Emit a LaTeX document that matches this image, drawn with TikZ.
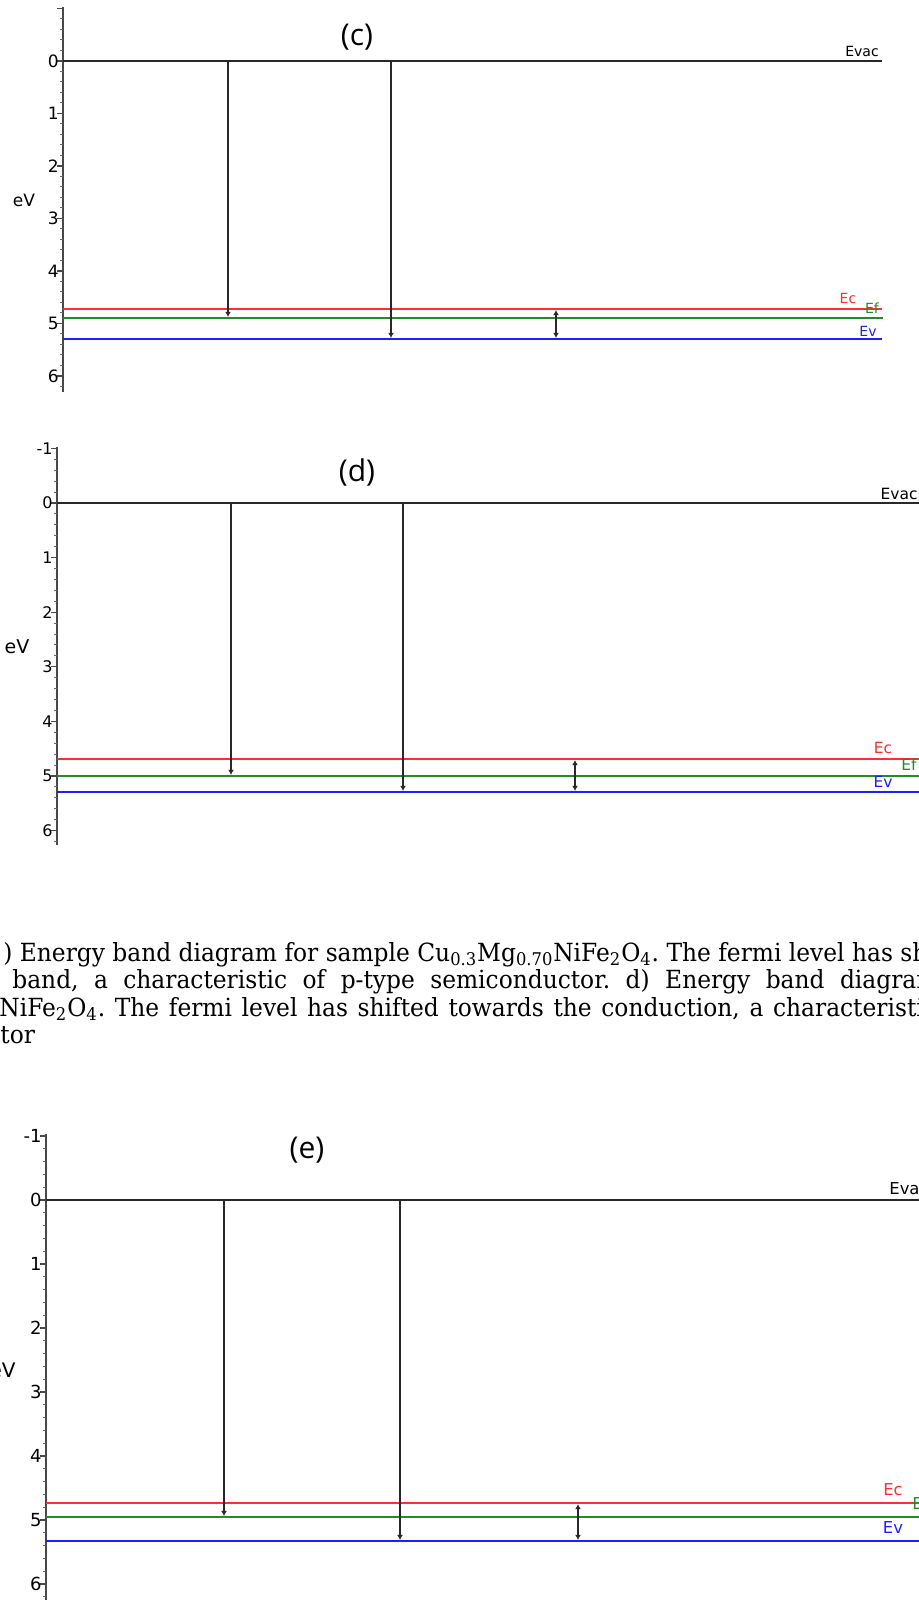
\documentclass[tikz,border=0pt]{standalone}
\usepackage{fontspec}
\usepackage{graphicx}
\usetikzlibrary{arrows.meta}
\setmainfont{DejaVu Serif}
\newfontfamily\capfam{DejaVu Serif}
\newfontfamily\tickfam{DejaVu Sans}
\newfontfamily\titlefam{Open Sans}
\definecolor{ecred}{RGB}{255,45,45}
\definecolor{efgreen}{RGB}{35,140,35}
\definecolor{evblue}{RGB}{30,30,255}
\definecolor{inkgray}{RGB}{40,40,40}
\newlength\capw
\newcommand\capfont{\capfam\fontsize{12.5}{15}\selectfont\frenchspacing}
\newcommand\fs[1]{\tickfam\fontsize{#1}{#1}\selectfont}
\tikzset{
  dottip/.tip={Latex[length=2.6pt,width=3pt]},
  lvl/.style={line width=1pt},
  vacline/.style={lvl, inkgray},
  ecline/.style={lvl, ecred},
  efline/.style={lvl, efgreen},
  evline/.style={lvl, evblue},
  trans/.style={line width=0.9pt, inkgray, -dottip},
  transboth/.style={line width=0.9pt, inkgray, dottip-dottip},
  axisline/.style={line width=0.8pt, inkgray!85},
  majtick/.style={line width=0.6pt, inkgray!85},
  mintick/.style={line width=0.5pt, inkgray!70},
  ticklab/.style={anchor=east, inner sep=0pt},
  ptitle/.style={font=\titlefam\fontsize{15}{17}\selectfont, inner sep=0pt},
  lvllab/.style={inner sep=0pt},
  capline/.style={anchor=base west, inner sep=0pt, font=\capfont},
}
% #1 prefix, #2 axis x, #3 y of 0 eV, #4 px per eV, #5 bottom eV, #6 first label, #7 font size
\newcommand\bandaxis[7]{%
  \draw[axisline] (#2,{#3-1.03*#4}) coordinate (#1-axtop) -- (#2,{#3+#5*#4}) coordinate (#1-axbot);
  \foreach \k in {0,...,36} \draw[mintick] (#2,{#3+(-1+0.2*\k)*#4}) -- ++(-3,0);
  \foreach \v in {-1,...,6} \draw[majtick] (#2,{#3+\v*#4}) -- ++(-6,0);
  \foreach \v in {#6,...,6} \node[ticklab, font=\fs{#7}] (#1-lab\v) at ({#2-4},{#3+\v*#4}) {\v};
}
\begin{document}
\settowidth{\capw}{\capfont ) Energy band diagram for sample Cu\textsubscript{0.3}Mg\textsubscript{0.70}NiFe\textsubscript{2}O\textsubscript{4}. The fermi level has s}%
\pgfmathsetmacro\capsx{909*0.5/\capw}%
\pgfmathsetmacro\capwB{904*0.5/\capsx}%
\pgfmathsetmacro\capwC{917*0.5/\capsx}%
\begin{tikzpicture}[x=0.5pt,y=-0.5pt]
\useasboundingbox (0,0) rectangle (919,1600);
\clip (0,0) rectangle (919,1600);

% ================= panel (c)
\bandaxis{c}{63}{61}{52.5}{6.3}{0}{8.5}
\node[ptitle] (c-title) at (357,37) {(c)};
\node[font=\fs{8.5}, inner sep=0pt] (c-eV) at (24,200) {eV};
\coordinate (c-vl) at (63,61);  \coordinate (c-vr) at (882,61);
\coordinate (c-cl) at (63,309); \coordinate (c-cr) at (882,309);
\coordinate (c-fl) at (63,318); \coordinate (c-fr) at (883,318);
\coordinate (c-bl) at (63,339); \coordinate (c-br) at (882,339);
\draw[vacline] (c-vl) -- (c-vr);
\draw[ecline] (c-cl) -- (c-cr);
\draw[efline] (c-fl) -- (c-fr);
\draw[evline] (c-bl) -- (c-br);
\coordinate (c-a1s) at (228,61);  \coordinate (c-a1e) at (228,317);
\coordinate (c-a2s) at (391,61);  \coordinate (c-a2e) at (391,338);
\coordinate (c-a3s) at (556,310); \coordinate (c-a3e) at (556,338);
\draw[trans] (c-a1s) -- (c-a1e);
\draw[trans] (c-a2s) -- (c-a2e);
\draw[transboth] (c-a3s) -- (c-a3e);
\node[lvllab, font=\fs{7}] (c-lvac) at (862,51) {Evac};
\node[lvllab, font=\fs{7}, text=ecred] (c-lc) at (848,298) {Ec};
\node[lvllab, font=\fs{7}, text=efgreen] (c-lf) at (872,308) {Ef};
\node[lvllab, font=\fs{7}, text=evblue] (c-lv) at (868,331) {Ev};

% ================= panel (d)
\bandaxis{d}{57}{503}{54.6}{6.26}{-1}{8}
\node[ptitle] (d-title) at (357,472) {(d)};
\node[font=\fs{9.5}, inner sep=0pt] (d-eV) at (17,647) {eV};
\coordinate (d-vl) at (57,503);  \coordinate (d-vr) at (919,503);
\coordinate (d-cl) at (57,759);  \coordinate (d-cr) at (919,759);
\coordinate (d-fl) at (57,776);  \coordinate (d-fr) at (919,776);
\coordinate (d-bl) at (57,792);  \coordinate (d-br) at (919,792);
\draw[vacline] (d-vl) -- (d-vr);
\draw[ecline] (d-cl) -- (d-cr);
\draw[efline] (d-fl) -- (d-fr);
\draw[evline] (d-bl) -- (d-br);
\coordinate (d-a1s) at (231,503); \coordinate (d-a1e) at (231,775);
\coordinate (d-a2s) at (403,503); \coordinate (d-a2e) at (403,791);
\coordinate (d-a3s) at (575,760); \coordinate (d-a3e) at (575,791);
\draw[trans] (d-a1s) -- (d-a1e);
\draw[trans] (d-a2s) -- (d-a2e);
\draw[transboth] (d-a3s) -- (d-a3e);
\node[lvllab, font=\fs{7.75}, anchor=east] (d-lvac) at (918,494) {Evac};
\node[lvllab, font=\fs{7.75}, text=ecred] (d-lc) at (883,748) {Ec};
\node[lvllab, font=\fs{7.75}, text=efgreen] (d-lf) at (909,765) {Ef};
\node[lvllab, font=\fs{7.75}, text=evblue] (d-lv) at (883,782) {Ev};

% ================= caption
\node[capline] (cap1) at (3,961) {\scalebox{\capsx}[1]{) Energy band diagram for sample Cu\textsubscript{0.3}Mg\textsubscript{0.70}NiFe\textsubscript{2}O\textsubscript{4}. The fermi level has sh}};
\node[capline] (cap2) at (12,988) {\scalebox{\capsx}[1]{\makebox[\capwB pt][s]{band, a characteristic of p-type semiconductor. d) Energy band diagra}m}};
\node[capline] (cap3) at (-1,1016) {\scalebox{\capsx}[1]{\makebox[\capwC pt][s]{NiFe\textsubscript{2}O\textsubscript{4}. The fermi level has shifted towards the conduction, a characterist}i}};
\node[capline] (cap4) at (0,1043) {\scalebox{\capsx}[1]{tor}};

% ================= panel (e)
\bandaxis{e}{46}{1200}{64}{6.4}{-1}{9}
\node[ptitle] (e-title) at (307,1150) {(e)};
\node[font=\fs{10}, inner sep=0pt, anchor=east] (e-eV) at (16,1370) {eV};
\coordinate (e-vl) at (46,1200);  \coordinate (e-vr) at (919,1200);
\coordinate (e-cl) at (46,1503);  \coordinate (e-cr) at (919,1503);
\coordinate (e-fl) at (46,1517);  \coordinate (e-fr) at (919,1517);
\coordinate (e-bl) at (46,1541);  \coordinate (e-br) at (919,1541);
\draw[vacline] (e-vl) -- (e-vr);
\draw[ecline] (e-cl) -- (e-cr);
\draw[efline] (e-fl) -- (e-fr);
\draw[evline] (e-bl) -- (e-br);
\coordinate (e-a1s) at (224,1200); \coordinate (e-a1e) at (224,1516);
\coordinate (e-a2s) at (400,1200); \coordinate (e-a2e) at (400,1540);
\coordinate (e-a3s) at (578,1504); \coordinate (e-a3e) at (578,1540);
\draw[trans] (e-a1s) -- (e-a1e);
\draw[trans] (e-a2s) -- (e-a2e);
\draw[transboth] (e-a3s) -- (e-a3e);
\node[lvllab, font=\fs{8.2}, anchor=west] (e-lvac) at (889,1189) {Evac};
\node[lvllab, font=\fs{8.2}, text=ecred] (e-lc) at (893,1490) {Ec};
\node[lvllab, font=\fs{8.2}, text=efgreen, anchor=west] (e-lf) at (912,1503) {Ef};
\node[lvllab, font=\fs{8.2}, text=evblue] (e-lv) at (893,1528) {Ev};
\end{tikzpicture}
\end{document}
